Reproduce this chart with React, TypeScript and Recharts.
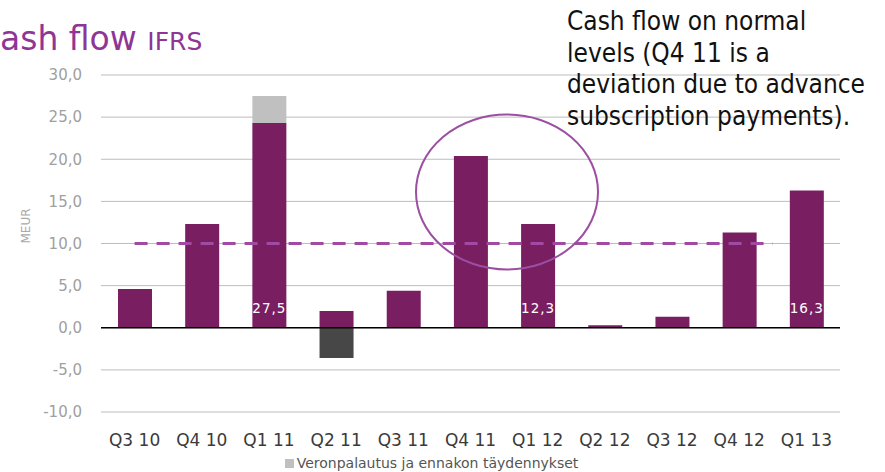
import { ComposedChart, Bar, XAxis, YAxis, CartesianGrid, ReferenceLine, LabelList } from 'recharts';

const quarters = ['Q3 10', 'Q4 10', 'Q1 11', 'Q2 11', 'Q3 11', 'Q4 11', 'Q1 12', 'Q2 12', 'Q3 12', 'Q4 12', 'Q1 13'];
const cashFlow = [4.6, 12.3, 24.3, 2.0, 4.4, 20.4, 12.3, 0.3, 1.3, 11.3, 16.3];
const taxRefund = [0, 0, 3.2, 0, 0, 0, 0, 0, 0, 0, 0];
const negativeItem = [0, 0, 0, -3.6, 0, 0, 0, 0, 0, 0, 0];
const barLabels = ['', '', '27,5', '', '', '', '12,3', '', '', '', '16,3'];
const yTicks = [-10, -5, 0, 5, 10, 15, 20, 25, 30];
const normalLevel = 10;

const PURPLE = '#7A1E62';
const LIGHT_GRAY = '#C0C0C0';
const DARK_GRAY = '#474747';
const FONT = '"DejaVu Sans", Verdana, sans-serif';
const NARROW = '"DejaVu Sans Condensed", "Liberation Sans Narrow", "Liberation Sans", sans-serif';

const data = quarters.map((q, i) => ({
  quarter: q,
  cash: cashFlow[i],
  refund: taxRefund[i],
  neg: negativeItem[i],
}));

const fmt = (v: number) => v.toFixed(1).replace('.', ',');

/** White total label near the base of selected bars. */
function BaseLabel(props: any) {
  const { x, y, width, height, index } = props;
  const text = barLabels[index];
  if (!text) return null;
  return (
    <text x={x + width / 2} y={y + height - 20} textAnchor="middle" dominantBaseline="central"
      fill="#FFFFFF" fontSize={13.5} fontFamily={FONT} letterSpacing={1}>
      {text}
    </text>
  );
}

/** Dashed "normal level" line from first bar centre to one band before the right edge. */
function NormalLine(props: any) {
  const { x1, x2, y1 } = props;
  if (x1 == null) return null;
  const band = (x2 - x1) / quarters.length;
  return (
    <line x1={x1 + band / 2} x2={x2 - band} y1={y1} y2={y1}
      stroke="#A04AA3" strokeWidth={3} strokeDasharray="13 9" />
  );
}

export default function App() {
  return (
    <div style={{ position: 'absolute', left: 0, top: 0, width: 885, height: 472, background: '#fff', overflow: 'hidden' }}>
      <div style={{ position: 'absolute', left: 0, top: 19, color: '#8E3596', fontFamily: FONT, whiteSpace: 'nowrap' }}>
        <span style={{ fontSize: 33 }}>ash flow </span>
        <span style={{ fontSize: 25 }}>IFRS</span>
      </div>
      <ComposedChart width={885} height={472} data={data} stackOffset="sign"
        margin={{ top: 75, right: 45, bottom: 20, left: 0 }}>
        <CartesianGrid vertical={false} stroke="#BDBDBD" />
        <XAxis dataKey="quarter" axisLine={false} tickLine={false} height={40}
          tick={{ fontSize: 17, fill: '#3A3A3A', fontFamily: FONT }} tickMargin={16} />
        <YAxis domain={[-10, 30]} ticks={yTicks} width={101} axisLine={false} tickLine={false}
          tickFormatter={fmt} tick={{ fontSize: 15, fill: '#A0A0A0', fontFamily: FONT }} tickMargin={13}
          label={{ value: 'MEUR', angle: -90, position: 'insideLeft', offset: 26, fill: '#AAAAAA', fontSize: 12, fontFamily: FONT }} />
        <Bar dataKey="cash" stackId="a" fill={PURPLE} barSize={34} isAnimationActive={false}>
          <LabelList dataKey="cash" content={<BaseLabel />} />
        </Bar>
        <Bar dataKey="refund" stackId="a" fill={LIGHT_GRAY} barSize={34} isAnimationActive={false} />
        <Bar dataKey="neg" stackId="a" fill={DARK_GRAY} barSize={34} isAnimationActive={false} />
        <ReferenceLine y={0} stroke="#000" strokeWidth={1.5} />
        <ReferenceLine y={normalLevel} shape={<NormalLine />} />
      </ComposedChart>
      <svg width={885} height={472} style={{ position: 'absolute', left: 0, top: 0, pointerEvents: 'none' }}>
        <ellipse cx={507} cy={192} rx={91} ry={77.5} fill="none" stroke="#9C4FA2" strokeWidth={2} />
      </svg>
      <div style={{ position: 'absolute', left: 0, top: 455, width: 885, fontFamily: FONT, fontSize: 14, color: '#555',
        display: 'flex', alignItems: 'center', justifyContent: 'center', paddingRight: 22, boxSizing: 'border-box' }}>
        <span style={{ display: 'inline-block', width: 9, height: 9, background: LIGHT_GRAY, marginRight: 3 }} />
        Veronpalautus ja ennakon täydennykset
      </div>
      <div style={{ position: 'absolute', left: 567, top: 6, fontFamily: NARROW, fontSize: 26, lineHeight: '31.5px', color: '#111', whiteSpace: 'nowrap' }}>
        Cash flow on normal<br />
        levels (Q4 11 is a<br />
        deviation due to advance<br />
        subscription payments).
      </div>
    </div>
  );
}
